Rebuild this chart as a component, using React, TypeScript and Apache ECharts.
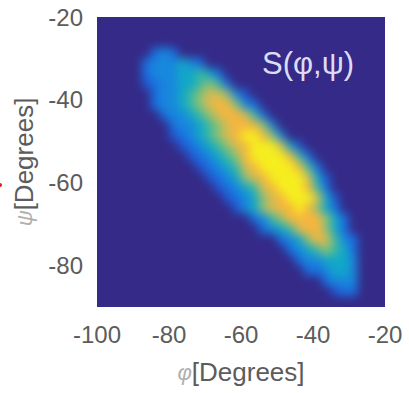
import React, { useEffect, useRef } from "react";
import * as echarts from "echarts";

// phi (x) cell centres, degrees
const phiCenters = [
  "-98.75", "-96.25", "-93.75", "-91.25", "-88.75", "-86.25", "-83.75", "-81.25",
  "-78.75", "-76.25", "-73.75", "-71.25", "-68.75", "-66.25", "-63.75", "-61.25",
  "-58.75", "-56.25", "-53.75", "-51.25", "-48.75", "-46.25", "-43.75", "-41.25",
  "-38.75", "-36.25", "-33.75", "-31.25", "-28.75", "-26.25", "-23.75", "-21.25",
];

// psi (y) cell centres, degrees, bottom to top
const psiCenters = [
  "-88.75", "-86.25", "-83.75", "-81.25", "-78.75", "-76.25", "-73.75", "-71.25",
  "-68.75", "-66.25", "-63.75", "-61.25", "-58.75", "-56.25", "-53.75", "-51.25",
  "-48.75", "-46.25", "-43.75", "-41.25", "-38.75", "-36.25", "-33.75", "-31.25",
  "-28.75", "-26.25", "-23.75", "-21.25",
];

// S(phi, psi) levels 0..9; first row = top (psi -21.25)
const densityRows = [
  "00000000000000000000000000000000",
  "00000000000000000000000000000000",
  "00000000000000000000000000000000",
  "00000023200000000000000000000000",
  "00000233343200000000000000000000",
  "00000233344542000000000000000000",
  "00000123344565200000000000000000",
  "00000023345677631000000000000000",
  "00000023345678863200000000000000",
  "00000002334567887520000000000000",
  "00000000233456788863000000000000",
  "00000000123456789986300000000000",
  "00000000012345678999741000000000",
  "00000000001234568999985200000000",
  "00000000000123457899998520000000",
  "00000000000012346789999741000000",
  "00000000000001234578999852000000",
  "00000000000000123467899974100000",
  "00000000000000013467889864200000",
  "00000000000000000235688886420000",
  "00000000000000000023457886420000",
  "00000000000000000000234687532000",
  "00000000000000000000023456542000",
  "00000000000000000000002334443000",
  "00000000000000000000000223443000",
  "00000000000000000000000002333000",
  "00000000000000000000000000122000",
  "00000000000000000000000000000000",
];

const phiTicks = [-100, -80, -60, -40, -20];
const psiTicks = [-80, -60, -40, -20];

// colour of each level 0..9 (parula-like, as seen in the picture)
const levelColors = [
  "#352a87", "#2456cf", "#1a70e2", "#1888dc", "#12a8c8",
  "#3cb9a0", "#8ec072", "#d8bb50", "#f7b53e", "#f6ee1e",
];

function buildCells() {
  const cells: number[][] = [];
  densityRows.forEach((row, j) => {
    const yi = psiCenters.length - 1 - j;
    for (let i = 0; i < phiCenters.length; i++) {
      const ch = row.charAt(i);
      cells.push([i, yi, ch ? Number(ch) : 0]);
    }
  });
  return cells;
}

const FONT = '"Liberation Sans", Arial, sans-serif';
const TXT = "#5c5c5c";

export default function App() {
  const heatRef = useRef<HTMLDivElement>(null);
  const axesRef = useRef<HTMLDivElement>(null);

  useEffect(() => {
    const heat = echarts.init(heatRef.current!, null, { renderer: "svg" });
    heat.setOption({
      animation: false,
      backgroundColor: "#352a87",
      grid: { left: 12, top: 12, width: 288, height: 290 },
      xAxis: { type: "category", data: phiCenters, show: false },
      yAxis: { type: "category", data: psiCenters, show: false },
      visualMap: {
        type: "continuous",
        min: 0,
        max: 9,
        show: false,
        inRange: { color: levelColors },
      },
      series: [
        {
          type: "heatmap",
          data: buildCells(),
          progressive: 0,
        },
      ],
    });

    const axes = echarts.init(axesRef.current!, null, { renderer: "svg" });
    axes.setOption({
      animation: false,
      grid: { left: 97, top: 17, width: 288, height: 290 },
      xAxis: {
        type: "value",
        min: -100,
        max: -20,
        interval: 20,
        axisLine: { show: false },
        axisTick: { show: false },
        splitLine: { show: false },
        axisLabel: {
          customValues: phiTicks,
          fontSize: 24,
          color: TXT,
          fontFamily: FONT,
          margin: 15,
        },
        name: "{s|φ}[Degrees]",
        nameLocation: "middle",
        nameGap: 52,
        nameTextStyle: {
          fontSize: 26,
          color: TXT,
          fontFamily: FONT,
          rich: { s: { fontSize: 22, color: "#b0b0b0", fontStyle: "italic", fontFamily: FONT } },
        },
      },
      yAxis: {
        type: "value",
        min: -90,
        max: -20,
        axisLine: { show: false },
        axisTick: { show: false },
        splitLine: { show: false },
        axisLabel: {
          customValues: psiTicks,
          fontSize: 24,
          color: TXT,
          fontFamily: FONT,
          margin: 14,
        },
        name: "{s|ψ}[Degrees]",
        nameLocation: "middle",
        nameGap: 56,
        nameTextStyle: {
          fontSize: 26,
          color: TXT,
          fontFamily: FONT,
          rich: { s: { fontSize: 22, color: "#b0b0b0", fontStyle: "italic", fontFamily: FONT } },
        },
      },
      graphic: [
        {
          type: "text",
          x: 262,
          y: 63,
          style: {
            text: "S(φ,ψ)",
            fill: "#dcdcf5",
            fontSize: 31,
            fontFamily: FONT,
            verticalAlign: "middle",
          },
        },
        {
          type: "circle",
          shape: { cx: 0, cy: 185, r: 2 },
          style: { fill: "#e02020" },
        },
      ],
      series: [],
    });

    return () => {
      heat.dispose();
      axes.dispose();
    };
  }, []);

  return (
    <div style={{ position: "fixed", left: 0, top: 0, width: 409, height: 393, background: "#fff" }}>
      <div style={{ position: "absolute", left: 97, top: 17, width: 288, height: 290, overflow: "hidden" }}>
        <div
          ref={heatRef}
          style={{ position: "absolute", left: -12, top: -12, width: 312, height: 314, filter: "blur(5px)" }}
        />
      </div>
      <div ref={axesRef} style={{ position: "absolute", left: 0, top: 0, width: 409, height: 393 }} />
    </div>
  );
}
